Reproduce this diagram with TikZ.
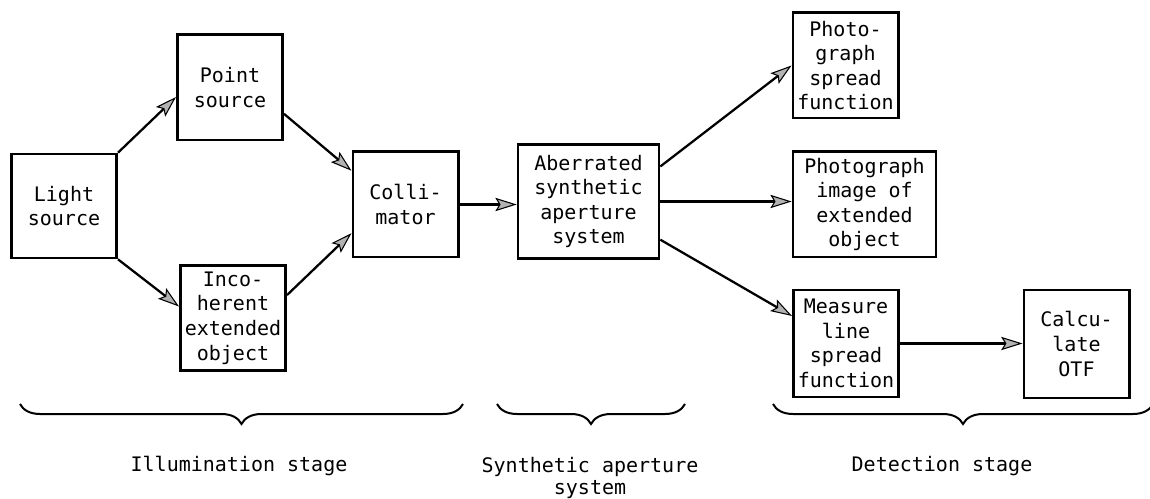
\documentclass[tikz,border=0pt]{standalone}
\usepackage{fontspec}
\setmonofont{DejaVu Sans Mono}
\usetikzlibrary{arrows.meta,decorations.pathreplacing}
\begin{document}
\begin{tikzpicture}[x=0.75pt,y=-0.75pt,
		font=\ttfamily\fontsize{15pt}{18.4pt}\selectfont,
		blockbox/.style={draw,line width=2pt,align=center,inner sep=0pt,
			minimum width=79pt,minimum height=79pt},
		flow/.style={line width=1.7pt,
			-{Stealth[length=16pt,width=10pt,inset=3pt,fill=black!30,line width=0.8pt]}},
		stagebrace/.style={line width=1.5pt,decorate,
			decoration={brace,mirror,amplitude=15pt}}]
			\useasboundingbox (0,0) rectangle (1150,499);
			% blocks
			\node[blockbox,minimum height=78pt] (light) at (64,206) {Light\\source};
			\node[blockbox] (point) at (230,87.5) {Point\\source};
			\node[blockbox] (incoh) at (233,318) {Inco-\\herent\\extended\\object};
			\node[blockbox] (colli) at (405.5,204.5) {Colli-\\mator};
			\node[blockbox,minimum width=105.75pt,minimum height=85.5pt] (aberr) at (588.5,201.5) {Aberrated\\synthetic\\aperture\\system};
			\node[blockbox] (psf) at (845.5,65.5) {Photo-\\graph\\spread\\function};
			\node[blockbox,minimum width=107.25pt] (pimage) at (864.5,204.5) {Photograph\\image of\\extended\\object};
			\node[blockbox,minimum height=80.25pt] (lsf) at (846,343.5) {Measure\\line\\spread\\function};
			\node[blockbox,minimum height=81pt] (otf) at (1076.5,344) {Calcu-\\late\\OTF};
			% arrows
			\draw[flow] (light.north east) to (point.190);
			\draw[flow] (light.south east) to (incoh.168);
			\draw[flow] (point.334) to (colli.148);
			\draw[flow] (incoh.23) to (colli.208);
			\draw[flow] (colli.east) to (colli.east -| aberr.west);
			\draw[flow] (aberr.26) to (psf.west);
			\draw[flow] (aberr.east) to (aberr.east -| pimage.west);
			\draw[flow] (aberr.332) to (lsf.153);
			\draw[flow] (lsf.east) to (lsf.east -| otf.west);
			% stage braces
			\coordinate (B1) at (20,404);
			\coordinate (B2) at (463,404);
			\coordinate (B3) at (497,404);
			\coordinate (B4) at (685,404);
			\coordinate (B5) at (773,404);
			\coordinate (B6) at (1153,404);
			\draw[stagebrace] (B1) to (B2);
			\draw[stagebrace] (B3) to (B4);
			\draw[stagebrace] (B5) to (B6);
			\node (illum) at (239,466) {Illumination stage};
			\node[align=center,anchor=north,inner sep=0pt,
				font=\ttfamily\fontsize{15pt}{16.5pt}\selectfont] (synth) at (590,457) {Synthetic aperture\\system};
			\node (detect) at (942,466) {Detection stage};
		\end{tikzpicture}
\end{document}
